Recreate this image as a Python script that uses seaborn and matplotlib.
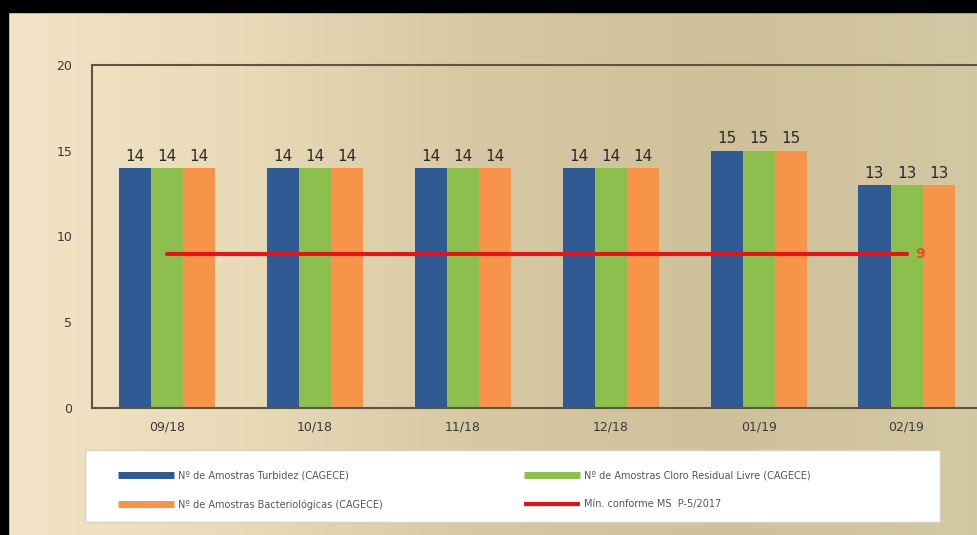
import numpy as np
import pandas as pd
import matplotlib.pyplot as plt
import seaborn as sns
from matplotlib.lines import Line2D
from matplotlib.colors import LinearSegmentedColormap

months = ['09/18', '10/18', '11/18', '12/18', '01/19', '02/19']
turbidez = [14, 14, 14, 14, 15, 13]
cloro = [14, 14, 14, 14, 15, 13]
bacterio = [14, 14, 14, 14, 15, 13]
minimo = [9, 9, 9, 9, 9, 9]

series_names = ['Nº de Amostras Turbidez (CAGECE)',
                'Nº de Amostras Cloro Residual Livre (CAGECE)',
                'Nº de Amostras Bacteriológicas (CAGECE)']
min_name = 'Mín. conforme MS  P-5/2017'
colors = ['#2F5A93', '#8CBF4E', '#F7944A']
red = '#E3141C'

df = pd.DataFrame({
    'mes': months * 3,
    'valor': turbidez + cloro + bacterio,
    'serie': [series_names[0]] * 6 + [series_names[1]] * 6 + [series_names[2]] * 6,
})

sns.set_style('white')
plt.rcParams['font.family'] = ['DejaVu Sans']

fig = plt.figure(figsize=(9.77, 5.35), dpi=100)

# beige background gradient + black border on top/left
bg = fig.add_axes([0, 0, 1, 1], zorder=-10)
grad = np.linspace(0, 1, 256)[None, :]
cmap = LinearSegmentedColormap.from_list('bg', ['#F2E4C6', '#E9DAB8', '#D6C8A2', '#CEC19A', '#D4C8A4'])
bg.imshow(grad, aspect='auto', cmap=cmap, extent=[0, 1, 0, 1])
bg.add_patch(plt.Rectangle((0, 0.978), 1, 0.03, color='black'))
bg.add_patch(plt.Rectangle((0, 0), 0.008, 1, color='black'))
# white legend box
bg.add_patch(plt.Rectangle((0.087, 0.024), 0.875, 0.135, facecolor='white', edgecolor='#d8d0bc', lw=1))
bg.set_xlim(0, 1)
bg.set_ylim(0, 1)
bg.axis('off')

ax = fig.add_axes([0.094, 0.237, 0.905, 0.642])
ax.patch.set_alpha(0)
sns.barplot(data=df, x='mes', y='valor', hue='serie', palette=colors,
            width=0.65, ax=ax, saturation=1, legend=False, linewidth=0)

for cont in ax.containers:
    ax.bar_label(cont, padding=3, fontsize=11, color='#2a2a2a')

sns.lineplot(x=months, y=minimo, color=red, lw=3, ax=ax, legend=False)
ax.text(len(months) - 1 + 0.06, minimo[-1], str(minimo[-1]), color='#E8501E',
        fontsize=10, fontweight='bold', va='center', ha='left')

ax.set_ylim(0, 20)
ax.set_yticks([0, 5, 10, 15, 20])
ax.set_xlim(-0.51, 5.47)
ax.set_xlabel('')
ax.set_ylabel('')
ax.tick_params(axis='both', labelsize=9, colors='#3a3a3a', length=0)
ax.tick_params(axis='y', pad=14)
ax.tick_params(axis='x', pad=9)
for side in ['top', 'left', 'bottom']:
    ax.spines[side].set_color('#5E5440')
    ax.spines[side].set_linewidth(1.5)
ax.spines['right'].set_visible(False)

handles = [Line2D([0], [0], color=colors[0], lw=5, solid_capstyle='butt'),
           Line2D([0], [0], color=colors[2], lw=5, solid_capstyle='butt'),
           Line2D([0], [0], color=colors[1], lw=5, solid_capstyle='butt'),
           Line2D([0], [0], color=red, lw=3, solid_capstyle='butt')]
labels = [series_names[0], series_names[2], series_names[1], min_name]
leg = fig.legend(handles, labels, ncol=2, loc='upper left', bbox_to_anchor=(0.121, 0.12),
                 fontsize=7, frameon=False, handlelength=5.7, handletextpad=0.5,
                 columnspacing=14.5, labelspacing=1.9, borderpad=0, borderaxespad=0)
for t in leg.get_texts():
    t.set_color('#555555')

fig.savefig('out.png', dpi=100)
